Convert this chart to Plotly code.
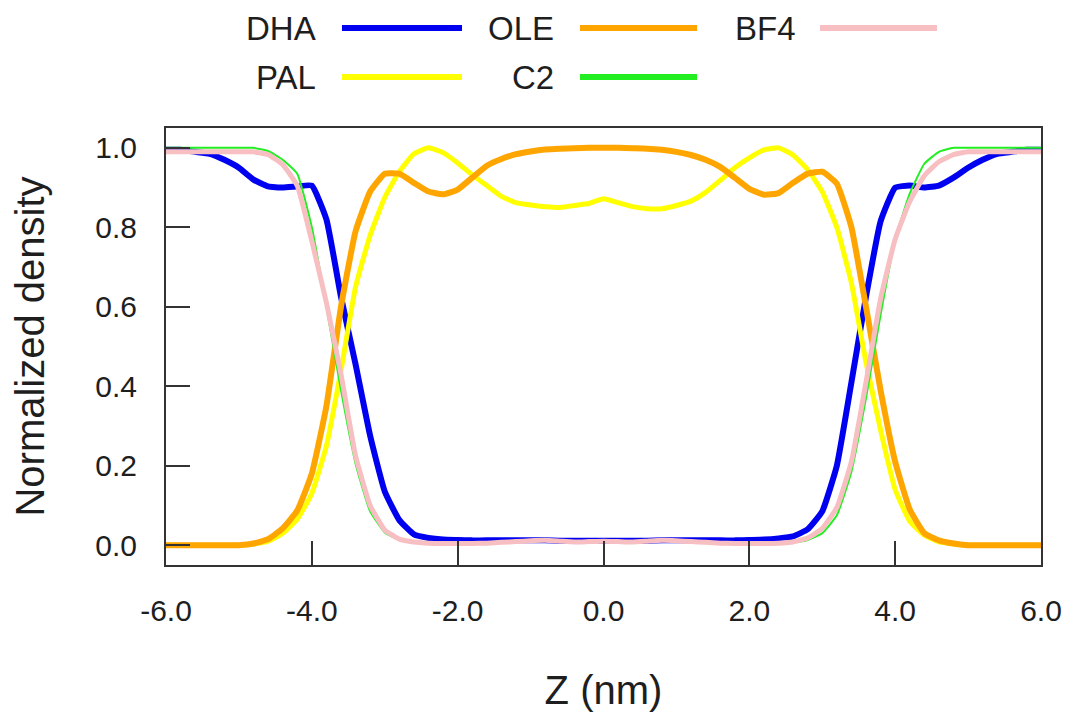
import plotly.graph_objects as go

# Position along the membrane normal (nm)
z_nm = [-6.0, -5.8, -5.6, -5.4, -5.2, -5.0, -4.8, -4.6, -4.4, -4.2,
        -4.0, -3.8, -3.6, -3.4, -3.2, -3.0, -2.8, -2.6, -2.4, -2.2,
        -2.0, -1.8, -1.6, -1.4, -1.2, -1.0, -0.8, -0.6, -0.4, -0.2,
        0.0, 0.2, 0.4, 0.6, 0.8, 1.0, 1.2, 1.4, 1.6, 1.8,
        2.0, 2.2, 2.4, 2.6, 2.8, 3.0, 3.2, 3.4, 3.6, 3.8,
        4.0, 4.2, 4.4, 4.6, 4.8, 5.0, 5.2, 5.4, 5.6, 5.8, 6.0]

dha = [0.995, 0.995, 0.99, 0.985, 0.97, 0.95, 0.92, 0.903, 0.90, 0.903,
       0.905, 0.82, 0.625, 0.455, 0.275, 0.135, 0.063, 0.027, 0.018, 0.014,
       0.013, 0.012, 0.012, 0.012, 0.012, 0.012, 0.012, 0.011, 0.011, 0.011,
       0.011, 0.011, 0.011, 0.011, 0.012, 0.012, 0.012, 0.012, 0.012, 0.012,
       0.013, 0.014, 0.017, 0.022, 0.04, 0.085, 0.20, 0.41, 0.625, 0.815,
       0.90, 0.905, 0.90, 0.905, 0.925, 0.95, 0.97, 0.985, 0.99, 0.995, 0.995]

ole = [0.0, 0.0, 0.0, 0.0, 0.0, 0.0, 0.004, 0.015, 0.042, 0.087,
       0.18, 0.35, 0.60, 0.79, 0.89, 0.935, 0.935, 0.912, 0.89, 0.883,
       0.895, 0.925, 0.955, 0.972, 0.984, 0.991, 0.996, 0.998, 0.999, 1.0,
       1.0, 1.0, 0.999, 0.998, 0.995, 0.99, 0.982, 0.97, 0.952, 0.925,
       0.897, 0.882, 0.886, 0.912, 0.935, 0.94, 0.91, 0.80, 0.60, 0.39,
       0.21, 0.09, 0.03, 0.012, 0.004, 0.0, 0.0, 0.0, 0.0, 0.0, 0.0]

pal = [0.0, 0.0, 0.0, 0.0, 0.0, 0.0, 0.003, 0.01, 0.03, 0.065,
       0.13, 0.25, 0.44, 0.65, 0.78, 0.875, 0.94, 0.985, 1.0, 0.988,
       0.962, 0.932, 0.905, 0.878, 0.862, 0.856, 0.852, 0.85, 0.855, 0.86,
       0.872, 0.862, 0.852, 0.847, 0.847, 0.855, 0.866, 0.888, 0.918, 0.95,
       0.975, 0.995, 1.0, 0.982, 0.945, 0.89, 0.80, 0.66, 0.46, 0.29,
       0.14, 0.06, 0.025, 0.008, 0.003, 0.0, 0.0, 0.0, 0.0, 0.0, 0.0]

c2 = [1.0, 1.0, 1.0, 1.0, 1.0, 1.0, 1.0, 0.992, 0.97, 0.935,
      0.80, 0.60, 0.39, 0.205, 0.085, 0.032, 0.013, 0.007, 0.005, 0.004,
      0.004, 0.004, 0.005, 0.006, 0.008, 0.01, 0.011, 0.009, 0.008, 0.009,
      0.01, 0.009, 0.008, 0.009, 0.011, 0.01, 0.008, 0.006, 0.005, 0.004,
      0.004, 0.004, 0.005, 0.007, 0.013, 0.03, 0.075, 0.185, 0.37, 0.58,
      0.77, 0.885, 0.96, 0.99, 1.0, 1.0, 1.0, 1.0, 1.0, 1.0, 1.0]

bf4 = [0.99, 0.99, 0.99, 0.99, 0.99, 0.99, 0.99, 0.983, 0.958, 0.905,
       0.765, 0.61, 0.43, 0.225, 0.10, 0.038, 0.015, 0.008, 0.005, 0.004,
       0.004, 0.004, 0.005, 0.007, 0.009, 0.011, 0.012, 0.01, 0.008, 0.009,
       0.01, 0.009, 0.008, 0.01, 0.012, 0.011, 0.009, 0.007, 0.005, 0.004,
       0.004, 0.004, 0.005, 0.008, 0.018, 0.042, 0.095, 0.21, 0.41, 0.62,
       0.77, 0.865, 0.93, 0.965, 0.983, 0.99, 0.99, 0.99, 0.99, 0.99, 0.99]

x_ticks = [-6.0, -4.0, -2.0, 0.0, 2.0, 4.0, 6.0]
y_ticks = [0.0, 0.2, 0.4, 0.6, 0.8, 1.0]

# name, values, colour, plot line width
series = [
    ("DHA", dha, "#0000F0", 6),
    ("PAL", pal, "#FFFF00", 5),
    ("OLE", ole, "#FFA500", 6),
    ("C2", c2, "#22EE22", 2),
    ("BF4", bf4, "#F7BFC2", 5),
]

# legend grid: (column, row) for each series
legend_slots = {"DHA": (0, 0), "OLE": (1, 0), "BF4": (2, 0),
                "PAL": (0, 1), "C2": (1, 1)}

FONT = "Liberation Sans, Arial, sans-serif"
INK = "#1e1e1e"

fig = go.Figure()
for name, vals, color, width in series:
    fig.add_trace(go.Scatter(
        x=z_nm, y=vals, mode="lines", name=name,
        line=dict(color=color, width=width, shape="spline", smoothing=0.4),
        showlegend=False,
    ))

# Legend drawn above the plot with the label to the left of the line sample
col_text_x = [0.1738, 0.4458, 0.7218]
col_line_x = [(0.2011, 0.3383), (0.4731, 0.6069), (0.7474, 0.8811)]
row_y = [1.2288, 1.1167]
for name, vals, color, width in series:
    c, r = legend_slots[name]
    fig.add_annotation(x=col_text_x[c], y=row_y[r], xref="paper", yref="paper",
                       text=name, showarrow=False, xanchor="right", yanchor="middle",
                       font=dict(family=FONT, size=33, color=INK))
    fig.add_shape(type="line", xref="paper", yref="paper",
                  x0=col_line_x[c][0], x1=col_line_x[c][1], y0=row_y[r], y1=row_y[r],
                  line=dict(color=color, width=6))

axis_common = dict(
    showline=True, mirror=True, linecolor="#333333", linewidth=2,
    ticks="inside", ticklen=24, tickwidth=2, tickcolor="#333333",
    showgrid=False, zeroline=False, automargin=False,
    tickfont=dict(family=FONT, size=30, color=INK),
)

fig.update_layout(
    width=1068, height=715,
    margin=dict(l=166, r=27, t=128, b=150),
    paper_bgcolor="white", plot_bgcolor="white",
    xaxis=dict(range=[-6, 6], tickvals=x_ticks,
               ticktext=[f"{v:.1f}" for v in x_ticks],
               ticklabelstandoff=18,
               title=dict(text="Z (nm)", font=dict(family=FONT, size=40, color=INK),
                          standoff=50),
               **axis_common),
    yaxis=dict(range=[-0.05, 1.05], tickvals=y_ticks,
               ticktext=[f"{v:.1f}" for v in y_ticks],
               ticklabelstandoff=21,
               title=dict(text="Normalized density", font=dict(family=FONT, size=40, color=INK),
                          standoff=38),
               **axis_common),
)

fig.write_html("out.html")
